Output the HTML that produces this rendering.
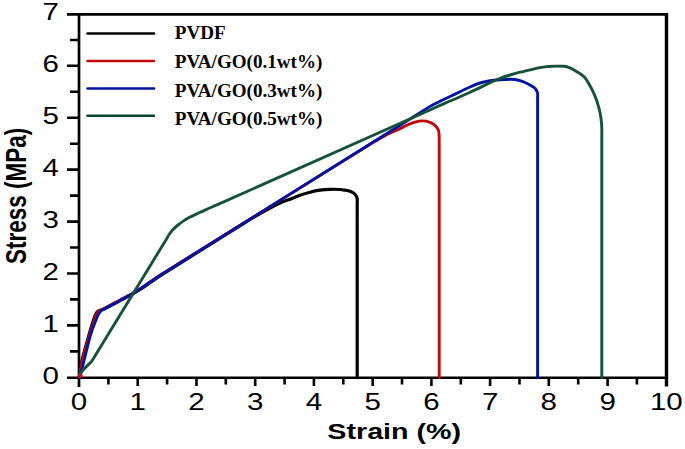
<!DOCTYPE html>
<html><head><meta charset="utf-8">
<style>
html,body{margin:0;padding:0;background:#fff;}
body{width:685px;height:449px;overflow:hidden;}
svg{display:block;}
#wrap{width:685px;height:449px;}
.t{font-family:"Liberation Sans",sans-serif;font-size:30px;fill:#000;}
.tk text{font-size:29.5px;}
.lg{font-family:"Liberation Serif",serif;font-weight:bold;font-size:19.1px;fill:#000;}
</style></head>
<body><div id="wrap">
<svg width="685" height="449" viewBox="0 0 685 449">
<rect width="685" height="449" fill="#fff"/>
<!-- frame and axes -->
<g stroke="#000" fill="none" stroke-linecap="butt">
  <path d="M67,14.3 H666.5" stroke-width="2.7"/>
  <path d="M79,13 V387" stroke-width="2.7"/>
  <path d="M67,377.7 H668" stroke-width="2.6"/>
  <path d="M666.5,13 V386.5" stroke-width="3.4"/>
  <!-- y major ticks -->
  <path d="M67,65.8H79 M67,117.7H79 M67,169.6H79 M67,221.6H79 M67,273.5H79 M67,325.4H79" stroke-width="2.6"/>
  <!-- y minor ticks -->
  <path d="M70,40H79 M70,91.8H79 M70,143.7H79 M70,195.6H79 M70,247.5H79 M70,299.4H79 M70,351.4H79" stroke-width="2.6"/>
  <!-- x major ticks -->
  <path d="M137.7,377.7V386 M196.5,377.7V386 M255.2,377.7V386 M313.9,377.7V386 M372.7,377.7V386 M431.4,377.7V386 M490.1,377.7V386 M548.8,377.7V386 M607.6,377.7V386" stroke-width="2.6"/>
  <!-- x minor ticks -->
  <path d="M108.4,377.7V384.5 M167.1,377.7V384.5 M225.8,377.7V384.5 M284.6,377.7V384.5 M343.3,377.7V384.5 M402,377.7V384.5 M460.8,377.7V384.5 M519.5,377.7V384.5 M578.2,377.7V384.5 M636.9,377.7V384.5" stroke-width="2.6"/>
</g>
<!-- y tick labels -->
<g class="t tk" text-anchor="end">
  <text transform="translate(58.9,383.6) scale(1,0.78)">0</text>
  <text transform="translate(58.9,331.7) scale(1,0.78)">1</text>
  <text transform="translate(58.9,279.8) scale(1,0.78)">2</text>
  <text transform="translate(58.9,227.9) scale(1,0.78)">3</text>
  <text transform="translate(58.9,176.0) scale(1,0.78)">4</text>
  <text transform="translate(58.9,124.1) scale(1,0.78)">5</text>
  <text transform="translate(58.9,72.2) scale(1,0.78)">6</text>
  <text transform="translate(58.9,20.3) scale(1,0.78)">7</text>
</g>
<!-- x tick labels -->
<g class="t tk" text-anchor="middle">
  <text transform="translate(79,410.4) scale(1,0.78)">0</text>
  <text transform="translate(137.7,410.4) scale(1,0.78)">1</text>
  <text transform="translate(196.5,410.4) scale(1,0.78)">2</text>
  <text transform="translate(255.2,410.4) scale(1,0.78)">3</text>
  <text transform="translate(313.9,410.4) scale(1,0.78)">4</text>
  <text transform="translate(372.7,410.4) scale(1,0.78)">5</text>
  <text transform="translate(431.4,410.4) scale(1,0.78)">6</text>
  <text transform="translate(490.1,410.4) scale(1,0.78)">7</text>
  <text transform="translate(548.8,410.4) scale(1,0.78)">8</text>
  <text transform="translate(607.6,410.4) scale(1,0.78)">9</text>
  <text transform="translate(666.3,410.4) scale(1,0.78)">10</text>
</g>
<!-- axis labels -->
<text class="t" font-weight="bold" style="font-size:28.7px" transform="translate(327.3,439.4) scale(1,0.78)">Strain (%)</text>
<text class="t" font-weight="bold" style="font-size:29.5px" transform="translate(25.8,264) rotate(-90) scale(0.762,1)">Stress (MPa)</text>

<!-- curves -->
<g fill="none" stroke-width="2.9" stroke-linejoin="round" stroke-linecap="round">
  <path stroke="#000" stroke-width="3.2" d="M79.3,377.7 C79.5,376.1 80.0,371.3 80.6,368.0 C81.1,364.7 81.2,363.3 82.6,358.0 C83.9,352.7 86.8,342.7 88.7,336.0 C90.6,329.3 92.9,321.8 94.2,318.0 C95.5,314.2 95.6,314.5 96.3,313.3 C97.0,312.1 97.1,311.6 98.5,310.9 C99.9,310.2 102.6,309.8 104.5,309.0 C106.4,308.2 107.4,307.4 110.0,306.0 C112.6,304.7 116.7,302.5 120.0,300.7 C123.3,298.9 126.7,297.2 130.0,295.4 C133.3,293.5 136.7,291.6 140.0,289.5 C143.3,287.4 146.7,284.9 150.0,282.6 C153.3,280.3 158.3,276.9 160.0,275.8 L245.0,222.6 C247.0,221.4 252.8,217.8 257.0,215.4 C261.2,213.0 266.2,210.1 270.0,208.0 C273.8,205.9 276.7,204.5 280.0,203.0 C283.3,201.5 286.7,200.5 290.0,199.2 C293.3,197.9 296.7,196.4 300.0,195.2 C303.3,194.0 306.7,193.0 310.0,192.2 C313.3,191.4 316.7,190.7 320.0,190.2 C323.3,189.7 326.7,189.4 330.0,189.3 C333.3,189.2 337.5,189.3 340.0,189.5 C342.5,189.7 343.3,189.9 345.0,190.2 C346.7,190.5 348.6,190.8 350.0,191.3 C351.4,191.8 352.5,192.3 353.5,193.0 C354.5,193.7 355.4,194.5 356.0,195.5 C356.6,196.5 357.0,197.6 357.2,199.0 C357.4,200.4 357.2,203.2 357.2,204.0 L357.2,377.7"/>
  <path stroke="#c0080c" d="M79.5,377.7 C79.7,376.1 80.2,371.3 80.8,368.0 C81.3,364.7 81.4,363.3 82.8,358.0 C84.2,352.7 87.2,342.7 89.2,336.0 C91.2,329.3 93.7,321.8 95.0,318.0 C96.3,314.2 96.3,314.5 97.0,313.3 C97.7,312.1 98.0,311.4 99.3,310.6 C100.5,309.8 102.7,309.2 104.5,308.3 C106.3,307.4 107.4,306.7 110.0,305.3 C112.6,304.0 116.7,301.8 120.0,300.0 C123.3,298.2 126.7,296.5 130.0,294.7 C133.3,292.8 136.7,290.9 140.0,288.8 C143.3,286.7 146.7,284.2 150.0,281.9 C153.3,279.6 158.3,276.2 160.0,275.1 L375.0,141.3 C376.7,140.4 382.0,137.3 385.0,135.7 C388.0,134.1 390.5,133.0 393.0,131.8 C395.5,130.6 397.7,129.7 400.0,128.6 C402.3,127.5 404.5,126.3 407.0,125.2 C409.5,124.1 412.4,122.8 415.0,122.1 C417.6,121.4 419.8,120.9 422.3,120.9 C424.8,120.9 427.9,121.5 430.1,122.3 C432.3,123.1 434.2,124.6 435.6,126.0 C437.0,127.4 437.9,128.8 438.5,130.5 C439.1,132.2 439.1,135.1 439.2,136.0 L439.2,377.7"/>
  <path stroke="#0414a0" d="M80.0,377.7 C80.2,376.9 79.3,379.9 81.0,373.0 C82.7,366.1 87.6,345.2 90.2,336.0 C92.8,326.8 95.3,321.7 96.8,318.0 C98.2,314.3 98.2,314.8 98.9,313.6 C99.6,312.4 100.0,311.8 100.9,311.0 C101.8,310.2 103.0,309.6 104.5,308.7 C106.0,307.8 107.4,307.1 110.0,305.7 C112.6,304.4 116.7,302.2 120.0,300.4 C123.3,298.6 126.7,296.9 130.0,295.1 C133.3,293.2 136.7,291.3 140.0,289.2 C143.3,287.1 146.7,284.6 150.0,282.3 C153.3,280.0 158.3,276.6 160.0,275.5 L420.0,112.7 C421.7,111.7 426.7,108.4 430.0,106.5 C433.3,104.6 436.7,103.0 440.0,101.3 C443.3,99.6 446.7,98.1 450.0,96.5 C453.3,94.9 456.7,93.3 460.0,91.7 C463.3,90.1 466.7,88.5 470.0,87.0 C473.3,85.5 476.7,84.0 480.0,83.0 C483.3,82.0 486.7,81.2 490.0,80.7 C493.3,80.2 496.7,80.0 500.0,79.8 C503.3,79.5 507.5,79.2 510.0,79.2 C512.5,79.2 513.3,79.2 515.0,79.5 C516.7,79.8 518.3,80.2 520.0,80.7 C521.7,81.2 523.3,81.8 525.0,82.5 C526.7,83.2 528.6,84.1 530.0,84.9 C531.4,85.7 532.5,86.4 533.5,87.2 C534.5,88.0 535.5,88.8 536.2,89.8 C536.9,90.8 537.4,92.1 537.6,93.5 C537.8,94.9 537.6,97.2 537.6,98.0 L537.6,377.7"/>
  <path stroke="#16523a" d="M79.5,374.0 C80.4,373.0 83.0,370.1 85.0,368.0 C87.0,365.9 90.5,362.6 91.6,361.5 L166.5,239.0 C167.0,238.2 168.3,235.7 169.4,234.2 C170.5,232.7 171.4,231.3 172.8,229.8 C174.2,228.3 176.1,226.5 178.0,225.0 C179.9,223.5 182.0,221.9 184.0,220.6 C186.0,219.3 188.0,218.2 190.0,217.1 C192.0,216.0 193.9,215.2 196.2,214.1 C198.5,213.0 201.4,211.8 204.0,210.6 C206.6,209.4 209.0,208.3 212.0,207.0 C215.0,205.7 220.3,203.3 222.0,202.6 L430.0,110.0 L440.0,105.4 C441.7,104.7 446.7,102.4 450.0,101.0 C453.3,99.6 456.7,98.3 460.0,96.8 C463.3,95.3 466.7,93.7 470.0,92.2 C473.3,90.7 476.7,89.2 480.0,87.6 C483.3,86.0 486.7,84.3 490.0,82.8 C493.3,81.2 496.7,79.6 500.0,78.3 C503.3,77.0 506.7,76.0 510.0,75.0 C513.3,74.0 516.7,73.0 520.0,72.2 C523.3,71.4 526.7,70.7 530.0,69.9 C533.3,69.1 537.0,68.2 540.0,67.6 C543.0,67.0 545.3,66.8 548.0,66.5 C550.7,66.2 553.3,66.1 556.0,66.1 C558.7,66.1 562.0,66.1 564.0,66.3 C566.0,66.5 566.3,66.6 568.0,67.2 C569.7,67.8 572.0,68.8 574.0,69.9 C576.0,71.0 578.2,72.3 580.0,73.6 C581.8,74.9 583.5,76.1 585.0,77.8 C586.5,79.5 587.8,81.9 589.0,84.0 C590.2,86.1 591.4,88.3 592.5,90.6 C593.6,92.9 594.8,95.4 595.7,97.9 C596.7,100.4 597.5,102.9 598.2,105.5 C599.0,108.1 599.7,110.9 600.2,113.5 C600.7,116.1 601.0,118.6 601.3,121.0 C601.6,123.4 601.7,125.8 601.8,128.0 C601.9,130.2 601.8,133.0 601.8,134.0 L601.8,377.7"/>
</g>
<circle cx="80.4" cy="375.8" r="2.2" fill="#d00810"/>
<!-- legend -->
<g stroke-width="2.5" stroke-linecap="round" fill="none">
  <path d="M87.5,33.6 H154" stroke="#000"/>
  <path d="M87.5,61.1 H154" stroke="#c0080c"/>
  <path d="M87.5,88.4 H154" stroke="#0414a0"/>
  <path d="M87.5,115.8 H154" stroke="#06442e"/>
</g>
<g class="lg">
  <text x="174.8" y="38.7">PVDF</text>
  <text x="174.8" y="67.9">PVA/GO(0.1wt%)</text>
  <text x="174.8" y="96.7">PVA/GO(0.3wt%)</text>
  <text x="174.8" y="125.4">PVA/GO(0.5wt%)</text>
</g>
</svg></div>
</body></html>
